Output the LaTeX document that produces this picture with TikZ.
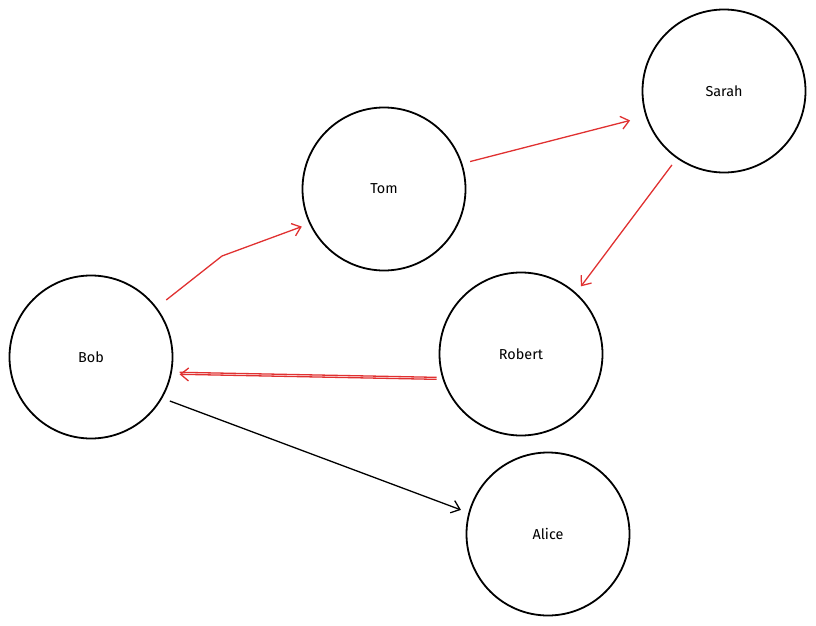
\documentclass[tikz,border=0pt]{standalone}
\usepackage{fontspec}
\setmainfont{Fira Sans}
\usetikzlibrary{arrows.meta}

\tikzset{
    person/.style={draw, circle, line width=1.8pt, minimum size=163pt, font=\Large},
    link/.style={line width=1.3pt, -{Straight Barb[length=8pt,width=13pt]}},
    redlink/.style={link, draw={rgb,255:red,224;green,49;blue,49}},
}

\begin{document}
\begin{tikzpicture}[x=1pt,y=-1pt]
    \useasboundingbox (0,0) rectangle (816,626);
    % people
    \node[person] (bob) at (91,357) {Bob};
    \node[person] (tom) at (384,189) {Tom};
    \node[person] (sarah) at (724,91) {Sarah};
    \node[person] (robert) at (521,354) {Robert};
    \node[person] (alice) at (548,534) {Alice};
    % links
    \coordinate (bend) at (222,256);
    \draw[redlink, shorten <=12pt, shorten >=8pt] (bob.37) -- (bend) -- (tom.205);
    \draw[redlink, shorten <=8pt, shorten >=16pt] (tom.18) -- (sarah.198);
    \draw[redlink, shorten <=8pt, shorten >=8pt] (sarah.235) -- (robert.48);
    \draw[redlink, shorten <=6pt, shorten >=8pt] (robert.198) -- (bob.348);
    \draw[redlink, -, shorten <=6pt, shorten >=8pt] ([yshift=2pt]robert.198) -- ([yshift=2pt]bob.348);
    \draw[link, shorten <=8pt, shorten >=8pt] (bob.330) -- (alice.165);
\end{tikzpicture}
\end{document}
